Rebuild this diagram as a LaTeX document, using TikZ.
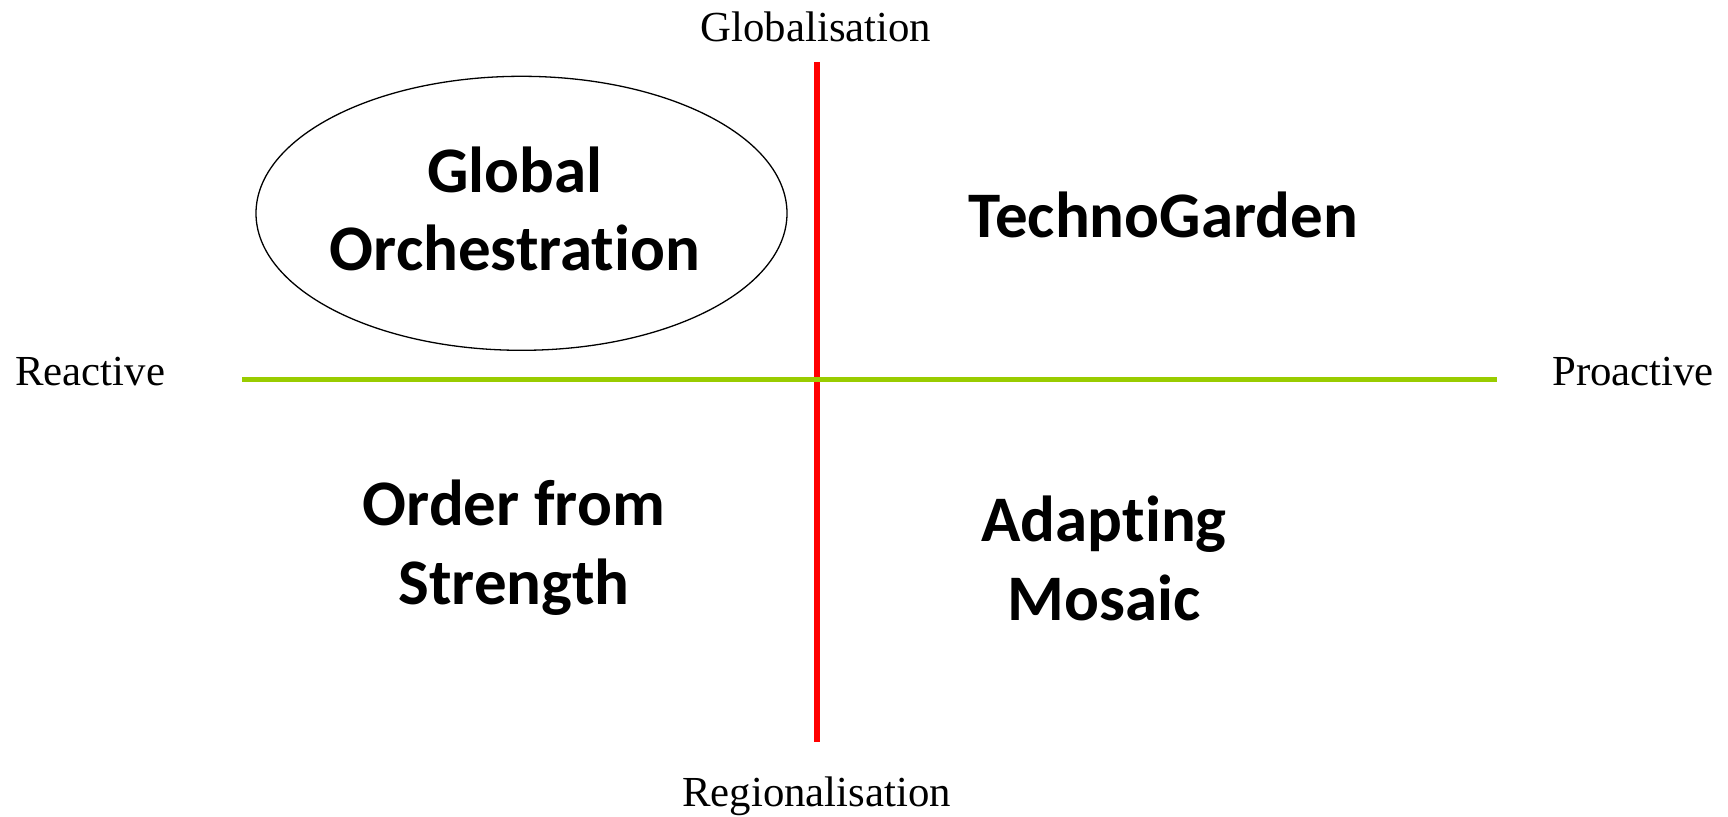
\documentclass[tikz,border=0pt]{standalone}
\usepackage{fontspec}
\setmainfont{Liberation Serif}
\newfontfamily\quadfont[Ligatures=NoCommon]{Carlito}
\usetikzlibrary{shapes.geometric}
\definecolor{axisred}{RGB}{255,0,0}
\definecolor{axisgreen}{RGB}{153,204,0}
\tikzset{
  axislabel/.style={font=\fontsize{42.8}{48}\selectfont, anchor=base, inner sep=0pt},
  quadlabel/.style={font=\quadfont\bfseries\fontsize{65}{78.5}\selectfont, align=center, anchor=base, inner sep=0pt},
  vaxis/.style={draw=axisred, line width=5.5pt},
  haxis/.style={draw=axisgreen, line width=5pt},
}
\begin{document}
\begin{tikzpicture}[x=1pt,y=-1pt]
\useasboundingbox (0,0) rectangle (1728,816);
\coordinate (vtop) at (817,62);
\coordinate (vbot) at (817,742);
\coordinate (hleft) at (242,379.5);
\coordinate (hright) at (1496.5,379.5);
\draw[vaxis] (vtop) -- (vbot);
\draw[haxis] (hleft) -- (hright);
\node[axislabel] (glob) at (816,41.7) {Globalisation};
\node[axislabel] (reg) at (816.5,806.7) {Regionalisation};
\node[axislabel] (react) at (90.3,385) {Reactive};
\node[axislabel] (proact) at (1633,385) {Proactive};
\node[ellipse, draw, line width=1.3pt, minimum width=531pt, minimum height=274pt, inner sep=0pt] (goell) at (521.5,213.3) {};
\node[quadlabel] (go) at (515,270.5) {Global\\Orchestration};
\node[quadlabel] (tg) at (1163.3,237.5) {TechnoGarden};
\node[quadlabel] (ofs) at (514,604) {Order from\\Strength};
\node[quadlabel] (am) at (1104,620) {Adapting\\Mosaic};
\end{tikzpicture}
\end{document}
